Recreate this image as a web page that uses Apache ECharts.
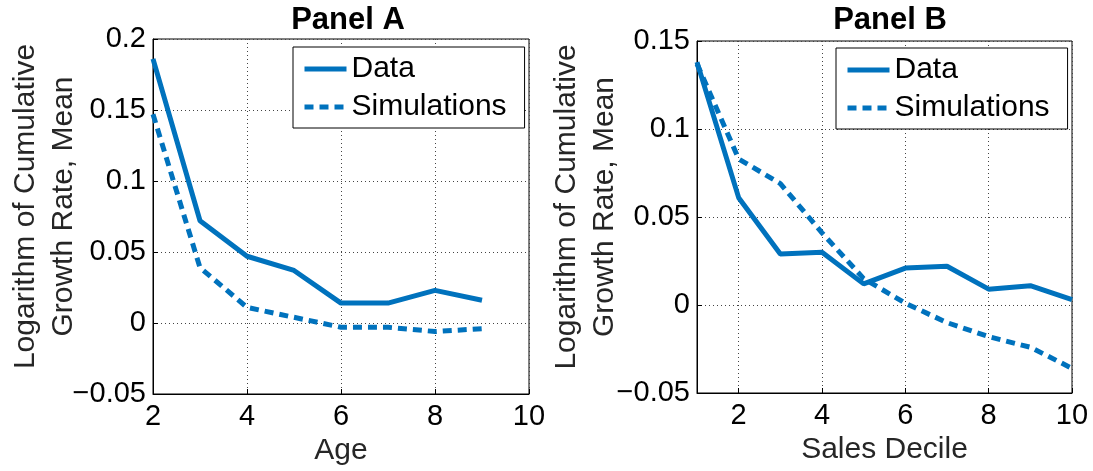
<!DOCTYPE html>
<html>
<head>
<meta charset="utf-8">
<script src="https://cdn.jsdelivr.net/npm/echarts@6.0.0/dist/echarts.min.js"></script>
<style>
  html, body { margin: 0; padding: 0; background: #fff; }
  #main { width: 1093px; height: 471px; }
</style>
</head>
<body>
<div id="main"></div>
<script>
  // Panel A: by age
  var ageX = [2, 3, 4, 5, 6, 7, 8, 9];
  var ageData = [0.186, 0.072, 0.047, 0.037, 0.014, 0.014, 0.023, 0.016];
  var ageSim = [0.147, 0.039, 0.011, 0.004, -0.003, -0.003, -0.006, -0.004];

  // Panel B: by sales decile
  var decileX = [1, 2, 3, 4, 5, 6, 7, 8, 9, 10];
  var decileData = [0.138, 0.061, 0.029, 0.030, 0.012, 0.021, 0.022, 0.009, 0.011, 0.003];
  var decileSim = [0.137, 0.083, 0.069, 0.041, 0.015, 0.001, -0.010, -0.018, -0.024, -0.036];

  var yName = 'Logarithm of Cumulative\nGrowth Rate, Mean';
  var font = 'Liberation Sans, Arial, sans-serif';
  var blue = '#0072BD';

  function pairs(xs, ys) {
    var out = [];
    for (var i = 0; i < xs.length; i++) {
      out.push([xs[i], ys[i]]);
    }
    return out;
  }

  function fmt(v) {
    return String(v).replace('-', '\u2212');
  }

  function xAxisFor(idx, min, max, name) {
    return {
      type: 'value',
      gridIndex: idx,
      min: min,
      max: max,
      minInterval: 2,
      maxInterval: 2,
      name: name,
      nameLocation: 'middle',
      nameGap: 42,
      nameMoveOverlap: false,
      nameTextStyle: {fontFamily: font, fontSize: 30, color: '#262626'},
      axisLine: {show: true, onZero: false, lineStyle: {color: '#000', width: 1}},
      axisTick: {show: true, inside: true, length: 5, lineStyle: {color: '#000'}},
      axisLabel: {
        margin: 8, fontFamily: font, fontSize: 29, color: '#000',
        formatter: function (v) { return v === 1 ? '' : fmt(v); }
      },
      splitLine: {show: true, lineStyle: {color: '#444', width: 1, type: [1, 3]}}
    };
  }

  function yAxisFor(idx, min, max, gap) {
    return {
      type: 'value',
      gridIndex: idx,
      min: min,
      max: max,
      minInterval: 0.05,
      maxInterval: 0.05,
      name: yName,
      nameLocation: 'middle',
      nameGap: gap,
      nameRotate: 90,
      nameMoveOverlap: false,
      nameTextStyle: {fontFamily: font, fontSize: 30, color: '#262626', lineHeight: 38, padding: [0, 0, 0, 20]},
      axisLine: {show: true, onZero: false, lineStyle: {color: '#000', width: 1}},
      axisTick: {show: true, inside: true, length: 5, lineStyle: {color: '#000'}},
      axisLabel: {margin: 7, fontFamily: font, fontSize: 29, color: '#000', formatter: fmt},
      splitLine: {show: true, lineStyle: {color: '#444', width: 1, type: [1, 3]}}
    };
  }

  function legendFor(left, top) {
    return {
      data: ['Data', 'Simulations'],
      orient: 'vertical',
      left: left,
      top: top,
      itemWidth: 42,
      itemHeight: 14,
      itemGap: 8,
      padding: [7, 18, 6, 9],
      backgroundColor: '#fff',
      borderColor: '#000',
      borderWidth: 1,
      borderRadius: 0,
      selectedMode: false,
      itemStyle: {opacity: 0},
      lineStyle: {width: 5},
      textStyle: {fontFamily: font, fontSize: 30, color: '#000'}
    };
  }

  function lineSeries(name, xi, data, dashed) {
    return {
      name: name,
      type: 'line',
      xAxisIndex: xi,
      yAxisIndex: xi,
      data: data,
      symbol: 'none',
      showSymbol: false,
      lineStyle: {color: blue, width: 5, type: dashed ? [9, 6] : 'solid'},
      itemStyle: {color: blue}
    };
  }

  var myChart = echarts.init(document.getElementById('main'));
  myChart.setOption({
    animation: false,
    backgroundColor: '#fff',
    title: [
      {text: 'Panel A', left: 343, top: 0, textAlign: 'center',
        textStyle: {fontFamily: font, fontSize: 31, fontWeight: 'bold', color: '#000'}},
      {text: 'Panel B', left: 885, top: 0, textAlign: 'center',
        textStyle: {fontFamily: font, fontSize: 31, fontWeight: 'bold', color: '#000'}}
    ],
    legend: [
      legendFor(293, 47),
      legendFor(836, 48)
    ],
    grid: [
      {left: 153, right: 564, top: 39, bottom: 77, show: true, borderColor: '#000', borderWidth: 1,
        containLabel: false, outerBoundsMode: 'none'},
      {left: 697, right: 21, top: 41, bottom: 78, show: true, borderColor: '#000', borderWidth: 1,
        containLabel: false, outerBoundsMode: 'none'}
    ],
    xAxis: [
      xAxisFor(0, 2, 10, 'Age'),
      xAxisFor(1, 1, 10, 'Sales Decile')
    ],
    yAxis: [
      yAxisFor(0, -0.05, 0.2, 70),
      yAxisFor(1, -0.05, 0.15, 73)
    ],
    series: [
      lineSeries('Data', 0, pairs(ageX, ageData), false),
      lineSeries('Simulations', 0, pairs(ageX, ageSim), true),
      lineSeries('Data', 1, pairs(decileX, decileData), false),
      lineSeries('Simulations', 1, pairs(decileX, decileSim), true)
    ]
  });
</script>
</body>
</html>
